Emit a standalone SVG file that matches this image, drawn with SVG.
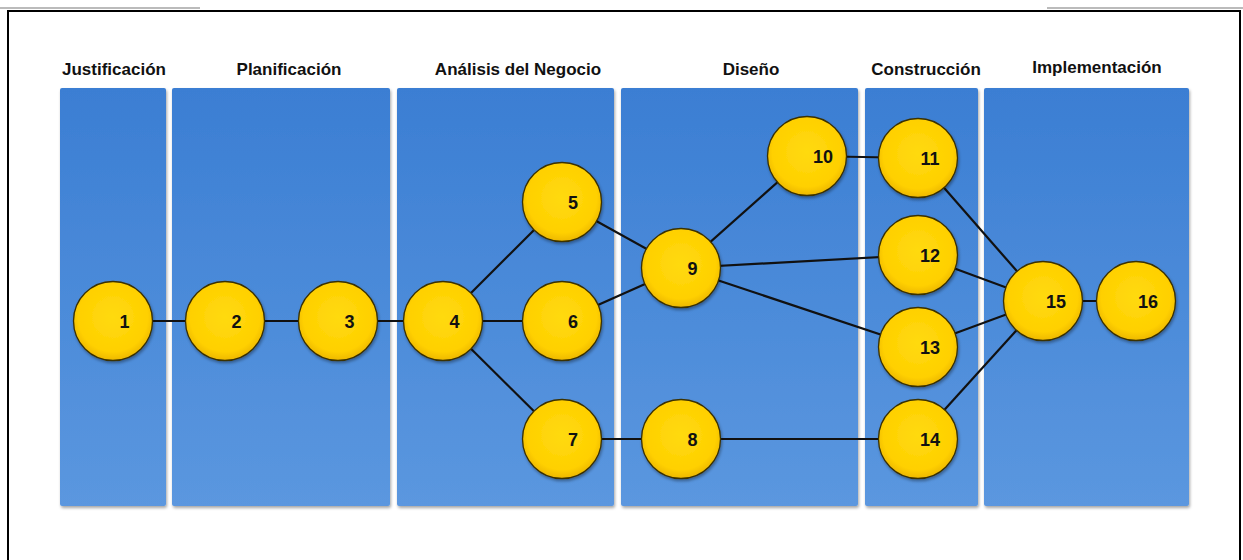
<svg xmlns="http://www.w3.org/2000/svg" width="1243" height="560" viewBox="0 0 1243 560">
<defs>
<linearGradient id="colg" x1="0" y1="0" x2="0" y2="1">
<stop offset="0" stop-color="#3B7ED3"/>
<stop offset="1" stop-color="#5B97DF"/>
</linearGradient>
<radialGradient id="nodeg" cx="0.5" cy="0.45" r="0.55">
<stop offset="0" stop-color="#FFDA10"/>
<stop offset="0.8" stop-color="#FFD000"/>
<stop offset="1" stop-color="#EDB800"/>
</radialGradient>
<filter id="sh" x="-10%" y="-10%" width="120%" height="120%">
<feDropShadow dx="1" dy="2" stdDeviation="1.5" flood-color="#000" flood-opacity="0.35"/>
</filter>
</defs>
<style>
.col{fill:url(#colg);filter:url(#sh)}
.hdr{font-family:"Liberation Sans",Arial,sans-serif;font-weight:bold;font-size:17px;fill:#111;text-anchor:middle}
.nd circle{fill:url(#nodeg);stroke:#3a3000;stroke-width:1.3;filter:url(#sh)}
.nd text{font-family:"Liberation Sans",Arial,sans-serif;font-weight:bold;font-size:18px;fill:#111;text-anchor:middle}
.edge line{stroke:#111;stroke-width:2.2}
.frame{fill:none;stroke:#000;stroke-width:2}
</style>
<rect width="1243" height="560" fill="#fff"/>
<line x1="0" y1="8" x2="200" y2="8" stroke="#bbb" stroke-width="2"/>
<line x1="1047" y1="8" x2="1243" y2="8" stroke="#bbb" stroke-width="2"/>
<path class="frame" d="M8,560 V11 H1240 V560"/>

<g id="columns">
<rect class="col" x="60" y="88" width="106" height="418" rx="2"/>
<rect class="col" x="172" y="88" width="218" height="418" rx="2"/>
<rect class="col" x="397" y="88" width="217" height="418" rx="2"/>
<rect class="col" x="621" y="88" width="237" height="418" rx="2"/>
<rect class="col" x="865" y="88" width="113" height="418" rx="2"/>
<rect class="col" x="984" y="88" width="205" height="418" rx="2"/>
</g>
<g id="headers">
<text class="hdr" x="114" y="75">Justificación</text>
<text class="hdr" x="289" y="75">Planificación</text>
<text class="hdr" x="518" y="75">Análisis del Negocio</text>
<text class="hdr" x="751" y="75">Diseño</text>
<text class="hdr" x="926" y="75">Construcción</text>
<text class="hdr" x="1097" y="73">Implementación</text>
</g>

<g id="connectors" class="edge">
<line x1="113" y1="321" x2="225" y2="321"/>
<line x1="225" y1="321" x2="338" y2="321"/>
<line x1="338" y1="321" x2="443" y2="321"/>
<line x1="443" y1="321" x2="562" y2="202"/>
<line x1="443" y1="321" x2="562" y2="321"/>
<line x1="443" y1="321" x2="562" y2="439"/>
<line x1="562" y1="202" x2="681" y2="268"/>
<line x1="562" y1="321" x2="681" y2="268"/>
<line x1="562" y1="439" x2="681" y2="439"/>
<line x1="681" y1="439" x2="918" y2="439"/>
<line x1="681" y1="268" x2="807" y2="156"/>
<line x1="681" y1="268" x2="918" y2="255"/>
<line x1="681" y1="268" x2="918" y2="347"/>
<line x1="807" y1="156" x2="918" y2="158"/>
<line x1="918" y1="158" x2="1043" y2="301"/>
<line x1="918" y1="255" x2="1043" y2="301"/>
<line x1="918" y1="347" x2="1043" y2="301"/>
<line x1="918" y1="439" x2="1043" y2="301"/>
<line x1="1043" y1="301" x2="1136" y2="301"/>
</g>

<g id="n1" class="nd"><circle cx="113" cy="321" r="39.5"/><text x="124.5" y="328">1</text></g>
<g id="n2" class="nd"><circle cx="225" cy="321" r="39.5"/><text x="236.5" y="328">2</text></g>
<g id="n3" class="nd"><circle cx="338" cy="321" r="39.5"/><text x="349.5" y="328">3</text></g>
<g id="n4" class="nd"><circle cx="443" cy="321" r="39.5"/><text x="454.5" y="328">4</text></g>
<g id="n5" class="nd"><circle cx="562" cy="202" r="39.5"/><text x="573" y="209">5</text></g>
<g id="n6" class="nd"><circle cx="562" cy="321" r="39.5"/><text x="573" y="328">6</text></g>
<g id="n7" class="nd"><circle cx="562" cy="439" r="39.5"/><text x="573" y="446">7</text></g>
<g id="n8" class="nd"><circle cx="681" cy="439" r="39.5"/><text x="692.5" y="446">8</text></g>
<g id="n9" class="nd"><circle cx="681" cy="268" r="39.5"/><text x="692.5" y="275">9</text></g>
<g id="n10" class="nd"><circle cx="807" cy="156" r="39.5"/><text x="823" y="163">10</text></g>
<g id="n11" class="nd"><circle cx="918" cy="158" r="39.5"/><text x="930" y="165">11</text></g>
<g id="n12" class="nd"><circle cx="918" cy="255" r="39.5"/><text x="930" y="262">12</text></g>
<g id="n13" class="nd"><circle cx="918" cy="347" r="39.5"/><text x="930" y="354">13</text></g>
<g id="n14" class="nd"><circle cx="918" cy="439" r="39.5"/><text x="930" y="446">14</text></g>
<g id="n15" class="nd"><circle cx="1043" cy="301" r="39.5"/><text x="1056" y="308">15</text></g>
<g id="n16" class="nd"><circle cx="1136" cy="301" r="39.5"/><text x="1148" y="308">16</text></g>
</svg>
